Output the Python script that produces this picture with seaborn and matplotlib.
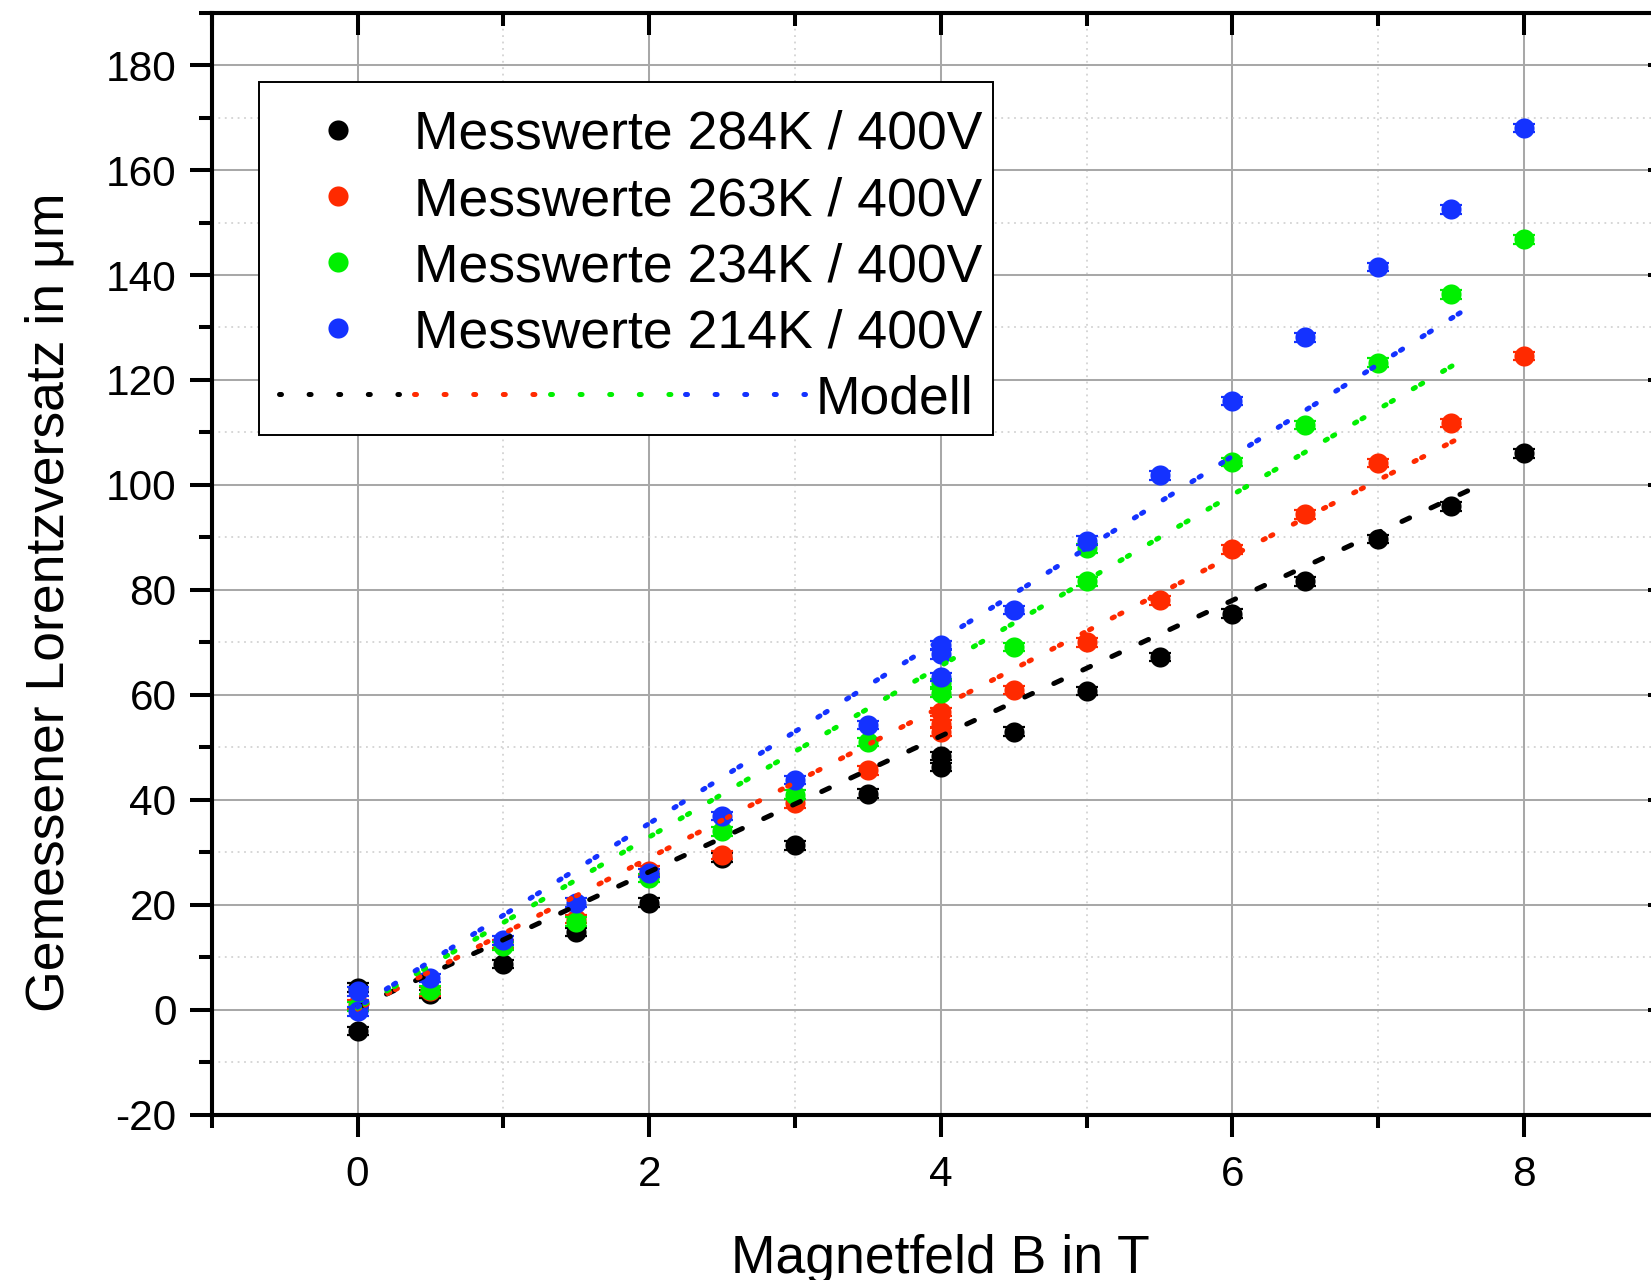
import matplotlib
matplotlib.use("Agg")
import matplotlib.pyplot as plt
from matplotlib.lines import Line2D
from matplotlib.text import Text
from matplotlib.ticker import MultipleLocator
import seaborn as sns

# Magnetic field (T) and measured Lorentz displacement (µm) per temperature
B_284 = [0, 0, 0.5, 1, 1.5, 2, 2.5, 3, 3.5, 4, 4, 4.5, 5, 5.5, 6, 6.5, 7, 7.5, 8]
d_284 = [4.2, -4.0, 3.0, 8.7, 14.8, 20.4, 29.0, 31.3, 41.2, 48.4, 46.2, 53.0,
         60.7, 67.2, 75.5, 81.6, 89.7, 95.9, 106.0]

B_263 = [0, 0.5, 1, 1.5, 2, 2.5, 3, 3.5, 4, 4, 4, 4.5, 5, 5.5, 6, 6.5, 7, 7.5, 8]
d_263 = [1.0, 3.5, 12.5, 17.3, 26.5, 29.5, 39.3, 45.6, 56.7, 54.5, 53.0, 60.9,
         70.0, 78.0, 87.7, 94.4, 104.2, 111.8, 124.6]

B_234 = [0, 0.5, 1, 1.5, 2, 2.5, 3, 3.5, 4, 4, 4.5, 5, 5, 6, 6.5, 7, 7.5, 8]
d_234 = [0.6, 3.8, 12.2, 16.8, 25.1, 34.0, 41.0, 51.0, 62.3, 60.3, 69.1, 87.9,
         81.6, 104.4, 111.4, 123.3, 136.3, 146.8]

B_214 = [0, 0, 0.5, 1, 1.5, 2, 2.5, 3, 3.5, 4, 4, 4, 4.5, 5, 5.5, 6, 6.5, 7, 7.5, 8]
d_214 = [3.5, -0.3, 6.1, 13.2, 20.4, 26.1, 36.9, 43.8, 54.2, 69.5, 67.7, 63.4,
         76.2, 89.4, 101.8, 116.0, 128.1, 141.5, 152.5, 168.0]

d_err = 0.8  # measurement uncertainty in µm

# Model curves (start / end points)
model_B_284 = [0.0, 7.70]
model_d_284 = [0.4, 100.0]
model_B_263 = [0.0, 7.63]
model_d_263 = [0.1, 110.0]
model_B_234 = [0.0, 7.63]
model_d_234 = [0.3, 124.7]
model_B_214 = [0.0, 7.63]
model_d_214 = [0.5, 134.0]

series_labels = ["Messwerte 284K / 400V", "Messwerte 263K / 400V",
                 "Messwerte 234K / 400V", "Messwerte 214K / 400V"]
colors = ["#000000", "#ff2a00", "#00f000", "#1432ff"]

x_ticks = [0, 2, 4, 6, 8]
y_ticks = [-20, 0, 20, 40, 60, 80, 100, 120, 140, 160, 180]

sns.set_style("white")
plt.rcParams["font.family"] = ["Liberation Sans", "DejaVu Sans"]
plt.rcParams["axes.unicode_minus"] = False
for key in ["text.color", "axes.labelcolor", "xtick.color", "ytick.color",
            "axes.edgecolor"]:
    plt.rcParams[key] = "black"

fig = plt.figure(figsize=(16.51, 12.8), dpi=100)
rect = [0.12822, 0.12914, 0.88328, 0.86102]
ax = fig.add_axes(rect)

meas = [(B_284, d_284), (B_263, d_263), (B_234, d_234), (B_214, d_214)]
models = [(model_B_284, model_d_284), (model_B_263, model_d_263),
          (model_B_234, model_d_234), (model_B_214, model_d_214)]

LW = 3.6
handles = []
for i, ((bx, dy), lab, col) in enumerate(zip(meas, series_labels, colors)):
    ax.errorbar(bx, dy, yerr=d_err, fmt="none", ecolor=col, elinewidth=1.5,
                capsize=8.0, capthick=1.6, zorder=2 + 0.2 * i)
    sns.scatterplot(x=bx, y=dy, color=col, s=210, linewidth=0, ax=ax,
                    zorder=2.1 + 0.2 * i, label=lab, legend=False)
    handles.append(ax.collections[-1])

model_lines = []
for i, ((mx, my), col) in enumerate(zip(models, colors)):
    if i == 0:
        ls = (0, (1.7, 4.7))
    else:
        ls = (0, (0.5, 1.2, 0.5, 4.6))
    sns.lineplot(x=mx, y=my, color=col, lw=LW, linestyle=ls,
                 dash_capstyle="round", ax=ax, zorder=4, legend=False)
    model_lines.append(ax.lines[-1])

XLIM, YLIM = (-1, 9), (-20, 190)
ax.set_xlim(*XLIM)
ax.set_ylim(*YLIM)
ax.set_xticks(x_ticks)
ax.set_yticks(y_ticks)
ax.xaxis.set_minor_locator(MultipleLocator(1))
ax.yaxis.set_minor_locator(MultipleLocator(10))

ax.set_axisbelow(True)
ax.grid(which="major", color="#a8a8a8", lw=1.45, ls="-")
ax.grid(which="minor", color="#cccccc", lw=1.1, ls=(0, (1.2, 3.0)))

for sp in ax.spines.values():
    sp.set_color("black")
    sp.set_linewidth(2.9)

ax.tick_params(which="major", direction="out", length=15.8, width=2.9,
               labelsize=30.5, colors="black", top=False, right=False)
ax.tick_params(axis="x", which="major", pad=13)
ax.tick_params(axis="y", which="major", pad=9.5)
ax.tick_params(which="minor", direction="out", length=9.2, width=2.9,
               colors="black", top=False, right=False)

# Mirrored inward ticks on the top and right axes
top_ax = ax.twiny()
top_ax.set_xlim(*XLIM)
top_ax.set_xticks(x_ticks)
top_ax.xaxis.set_minor_locator(MultipleLocator(1))
top_ax.tick_params(axis="x", which="major", direction="in", length=15.8,
                   width=2.9, colors="black", top=True, bottom=False,
                   labeltop=False, labelbottom=False)
top_ax.tick_params(axis="x", which="minor", direction="in", length=9.2,
                   width=2.9, colors="black", top=True, bottom=False)
top_ax.grid(False)
right_ax = ax.twinx()
right_ax.set_ylim(*YLIM)
right_ax.set_yticks(y_ticks)
right_ax.yaxis.set_minor_locator(MultipleLocator(10))
right_ax.tick_params(axis="y", which="major", direction="in", length=15.8,
                     width=2.9, colors="black", right=True, left=False,
                     labelright=False, labelleft=False)
right_ax.tick_params(axis="y", which="minor", direction="in", length=9.2,
                     width=2.9, colors="black", right=True, left=False)
right_ax.grid(False)
for a in (top_ax, right_ax):
    for sp in a.spines.values():
        sp.set_color("black")
        sp.set_linewidth(2.9)

ax.set_xlabel("Magnetfeld B in T", fontsize=38.5, color="black")
ax.set_ylabel("Gemessener Lorentzversatz in μm", fontsize=38.5, color="black")
ax.xaxis.set_label_coords(0.5, -0.108)
ax.yaxis.set_label_coords(-0.0944, 0.465)


class ModellHandler:
    """Legend entry: four dotted colour segments followed by the label."""

    def legend_artist(self, legend, orig_handle, fontsize, handlebox):
        starts = [6.35, 103.85, 201.75, 298.55]
        last = None
        for line, s in zip(orig_handle, starts):
            seg = Line2D([s, s + 86.7], [0.35 * fontsize, 0.35 * fontsize],
                         color=line.get_color(), lw=LW,
                         linestyle=(0, (0.4, 5.52)), dash_capstyle="round")
            handlebox.add_artist(seg)
            last = seg
        txt = Text(392.75, 0, "Modell", fontsize=fontsize, va="baseline",
                   ha="left", color="black",
                   fontfamily=["Liberation Sans", "DejaVu Sans"])
        handlebox.add_artist(txt)
        return last


model_key = tuple(model_lines)
leg = right_ax.legend(handles + [model_key], series_labels + [""],
                      handler_map={model_key: ModellHandler()},
                      loc="upper left", bbox_to_anchor=(0.0322, 0.9373),
                      bbox_transform=ax.transAxes,
                      borderaxespad=0, fontsize=38.5, frameon=True,
                      fancybox=False, framealpha=1, edgecolor="black",
                      scatterpoints=1, scatteryoffsets=[0.5],
                      handlelength=2.534, handletextpad=0.157,
                      borderpad=0.21, labelspacing=0.30, title=" ",
                      title_fontsize=1)
leg.get_frame().set_linewidth(1.4)
leg.set_zorder(10)
for t in leg.get_texts():
    t.set_color("black")

fig.savefig("out.png", dpi=100)
